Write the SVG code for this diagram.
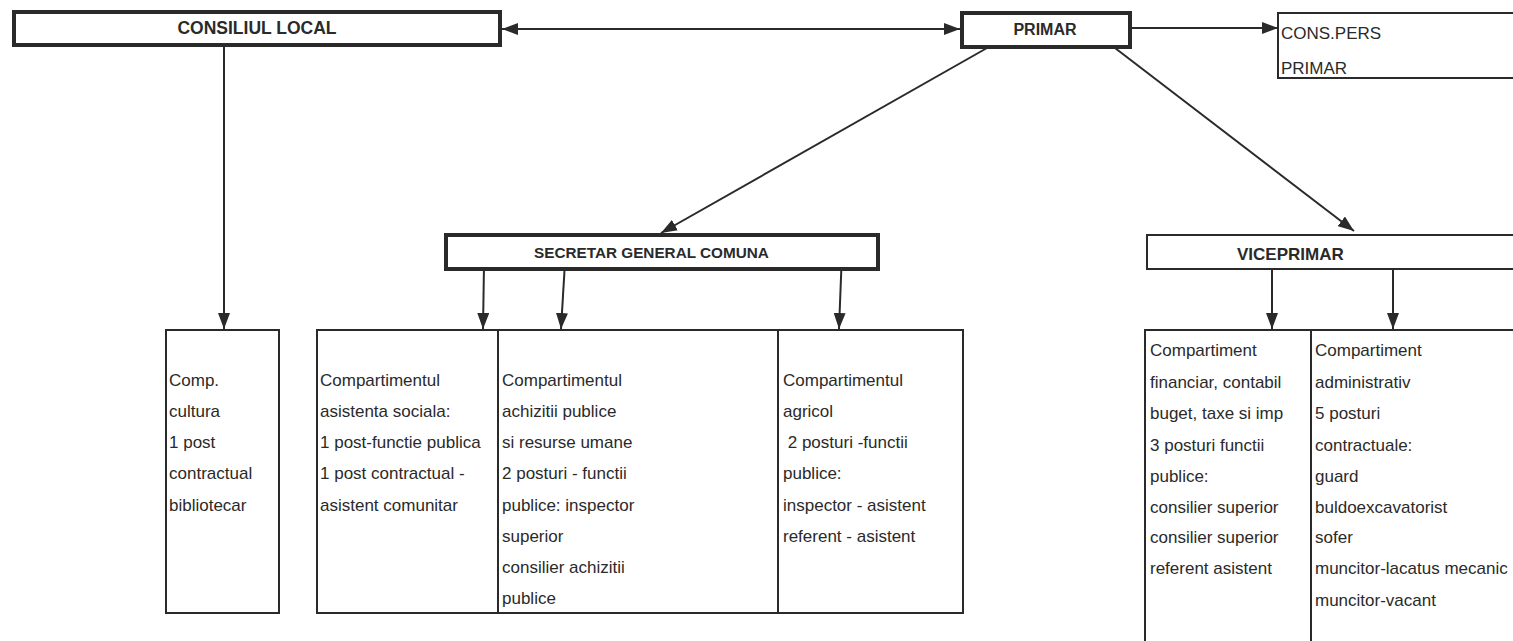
<svg xmlns="http://www.w3.org/2000/svg" width="1513" height="641" viewBox="0 0 1513 641">
<style>
.bg{fill:#ffffff}
.thick{fill:#fff;stroke:#2a2a2a;stroke-width:4}
.thin{fill:#fff;stroke:#2a2a2a;stroke-width:2}
.div{stroke:#2a2a2a;stroke-width:2;fill:none}
.title{font-family:"Liberation Sans",Arial,sans-serif;font-weight:bold;fill:#2a2a2a}
.t{font-family:"Liberation Sans",Arial,sans-serif;font-size:17px;fill:#2a2a2a}
.conn{stroke:#2a2a2a;stroke-width:2;fill:none}
</style>
<defs>
<marker id="ah" viewBox="0 0 16 12" refX="16" refY="6" markerWidth="16" markerHeight="12" markerUnits="userSpaceOnUse" orient="auto-start-reverse">
<path d="M0,0 L16,6 L0,12 Z" fill="#2a2a2a"/>
</marker>
</defs>
<rect class="bg" x="0" y="0" width="1513" height="641"/>

<g id="connectors">
<line class="conn" x1="502" y1="29" x2="960" y2="29" marker-start="url(#ah)" marker-end="url(#ah)"/>
<line class="conn" x1="1130" y1="28" x2="1278" y2="28" marker-end="url(#ah)"/>
<line class="conn" x1="987" y1="48" x2="661" y2="233" marker-end="url(#ah)"/>
<line class="conn" x1="1115" y1="48" x2="1354" y2="231" marker-end="url(#ah)"/>
<line class="conn" x1="224" y1="46" x2="224" y2="329" marker-end="url(#ah)"/>
<line class="conn" x1="484" y1="265" x2="483" y2="329" marker-end="url(#ah)"/>
<line class="conn" x1="565" y1="262" x2="561" y2="329" marker-end="url(#ah)"/>
<line class="conn" x1="842" y1="252" x2="839" y2="329" marker-end="url(#ah)"/>
<line class="conn" x1="1272" y1="270" x2="1272" y2="329" marker-end="url(#ah)"/>
<line class="conn" x1="1393" y1="270" x2="1393" y2="329" marker-end="url(#ah)"/>
</g>

<g id="consiliul-local">
<rect class="thick" x="14" y="12" width="486" height="33"/>
<text class="title" x="257" y="34" font-size="17.5" text-anchor="middle">CONSILIUL LOCAL</text>
</g>

<g id="primar">
<rect class="thick" x="962" y="13" width="168" height="34"/>
<text class="title" x="1045" y="35" font-size="16" text-anchor="middle">PRIMAR</text>
</g>

<g id="cons-pers">
<rect class="thin" x="1278" y="13" width="250" height="65"/>
<text class="t" x="1281" y="39" font-size="16">CONS.PERS</text>
<text class="t" x="1281" y="74" font-size="16">PRIMAR</text>
</g>

<g id="secretar">
<rect class="thick" x="446" y="235" width="432" height="34"/>
<text class="title" x="534" y="258" font-size="15.3">SECRETAR GENERAL COMUNA</text>
</g>

<g id="viceprimar">
<rect class="thin" x="1147" y="235" width="380" height="34"/>
<text class="title" x="1237" y="260" font-size="17">VICEPRIMAR</text>
</g>

<g id="comp-cultura">
<rect class="thin" x="166" y="330" width="113" height="283"/>
<text class="t" x="169" y="386">Comp.</text>
<text class="t" x="169" y="417">cultura</text>
<text class="t" x="169" y="448">1 post</text>
<text class="t" x="169" y="479">contractual</text>
<text class="t" x="169" y="511">bibliotecar</text>
</g>

<g id="compartimente-secretar">
<rect class="thin" x="317" y="330" width="646" height="283"/>
<line class="div" x1="498" y1="330" x2="498" y2="613"/>
<line class="div" x1="778" y1="330" x2="778" y2="613"/>
</g>

<g id="asistenta-sociala">
<text class="t" x="320" y="386">Compartimentul</text>
<text class="t" x="320" y="417">asistenta sociala:</text>
<text class="t" x="320" y="448">1 post-functie publica</text>
<text class="t" x="320" y="479">1 post contractual -</text>
<text class="t" x="320" y="511">asistent comunitar</text>
</g>

<g id="achizitii">
<text class="t" x="502" y="386">Compartimentul</text>
<text class="t" x="502" y="417">achizitii publice</text>
<text class="t" x="502" y="448">si resurse umane</text>
<text class="t" x="502" y="479">2 posturi - functii</text>
<text class="t" x="502" y="511">publice: inspector</text>
<text class="t" x="502" y="542">superior</text>
<text class="t" x="502" y="573">consilier achizitii</text>
<text class="t" x="502" y="604">publice</text>
</g>

<g id="agricol">
<text class="t" x="783" y="386">Compartimentul</text>
<text class="t" x="783" y="417">agricol</text>
<text class="t" x="783" y="448" xml:space="preserve"> 2 posturi -functii</text>
<text class="t" x="783" y="479">publice:</text>
<text class="t" x="783" y="511">inspector - asistent</text>
<text class="t" x="783" y="542">referent - asistent</text>
</g>

<g id="compartimente-viceprimar">
<path class="div" d="M1145,650 L1145,330 L1530,330"/>
<line class="div" x1="1311" y1="330" x2="1311" y2="650"/>
</g>

<g id="financiar">
<text class="t" x="1150" y="356">Compartiment</text>
<text class="t" x="1150" y="388">financiar, contabil</text>
<text class="t" x="1150" y="419">buget, taxe si imp</text>
<text class="t" x="1150" y="451">3 posturi functii</text>
<text class="t" x="1150" y="482">publice:</text>
<text class="t" x="1150" y="513">consilier superior</text>
<text class="t" x="1150" y="543">consilier superior</text>
<text class="t" x="1150" y="574">referent asistent</text>
</g>

<g id="administrativ">
<text class="t" x="1315" y="356">Compartiment</text>
<text class="t" x="1315" y="388">administrativ</text>
<text class="t" x="1315" y="419">5 posturi</text>
<text class="t" x="1315" y="451">contractuale:</text>
<text class="t" x="1315" y="482">guard</text>
<text class="t" x="1315" y="513">buldoexcavatorist</text>
<text class="t" x="1315" y="543">sofer</text>
<text class="t" x="1315" y="574">muncitor-lacatus mecanic</text>
<text class="t" x="1315" y="606">muncitor-vacant</text>
</g>
</svg>
